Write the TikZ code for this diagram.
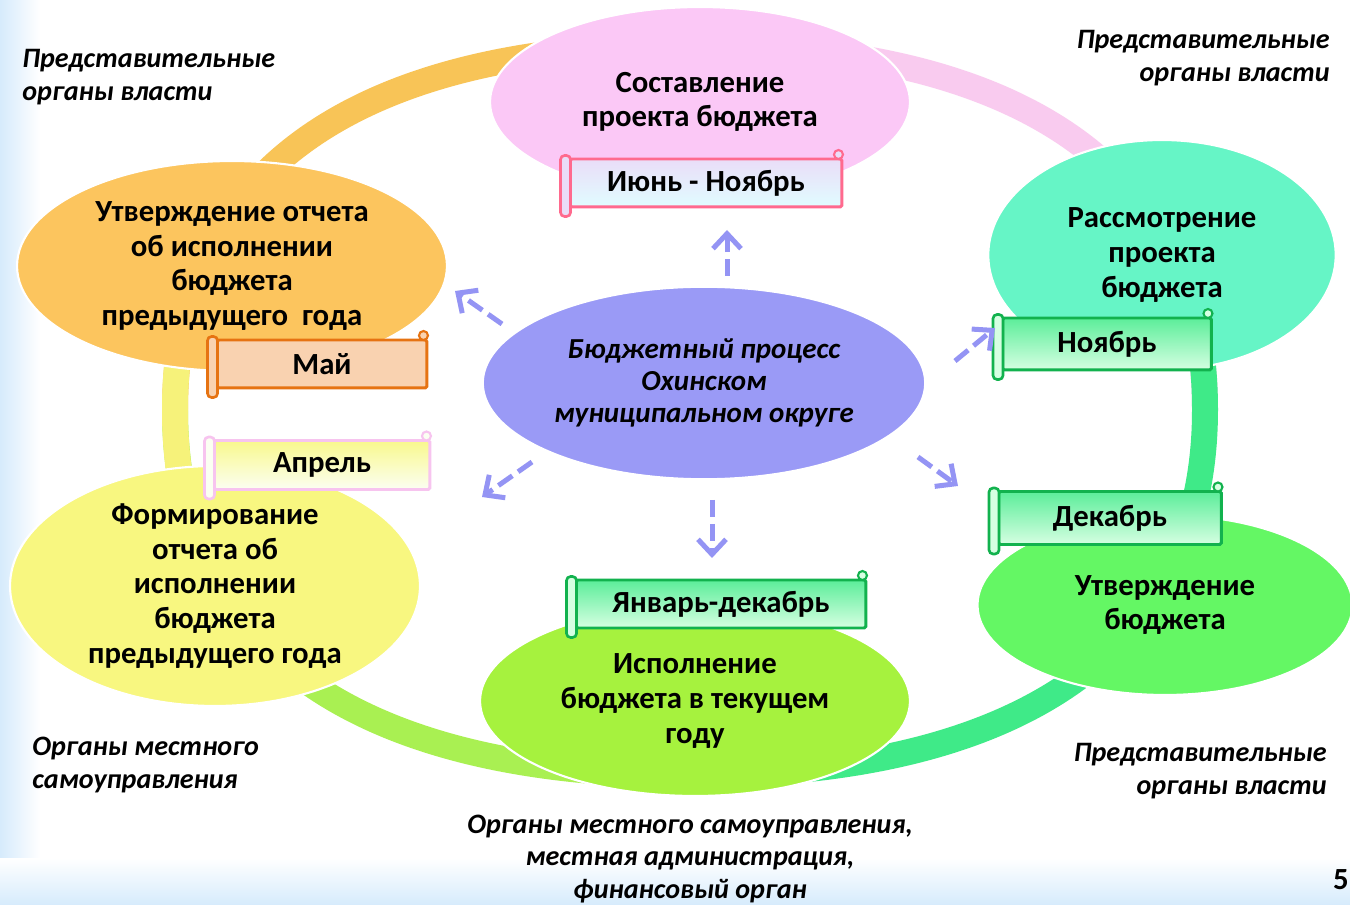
\documentclass[tikz,border=0pt]{standalone}
\usepackage{fontspec}
\setmainfont{Carlito}
\usetikzlibrary{shapes.geometric,arrows.meta}

\definecolor{bgblue}{HTML}{D6EBFC}
\definecolor{cpink}{HTML}{FBC8F6}
\definecolor{cteal}{HTML}{66F5C6}
\definecolor{cgreen}{HTML}{64F764}
\definecolor{clime}{HTML}{A6F23E}
\definecolor{cyellow}{HTML}{F8F780}
\definecolor{corange}{HTML}{FCC55E}
\definecolor{cpurple}{HTML}{9A9AF6}
\definecolor{ringorange}{HTML}{F8C457}
\definecolor{ringpink}{HTML}{F9CBEF}
\definecolor{ringgreen}{HTML}{3FEA88}
\definecolor{ringlime}{HTML}{A9F052}
\definecolor{ringyellow}{HTML}{F6F27A}
\definecolor{flowblue}{HTML}{9494F4}
\definecolor{junline}{HTML}{FF6A8E}
\definecolor{junbar}{HTML}{EADDF8}
\definecolor{mayline}{HTML}{E67312}
\definecolor{mayfill}{HTML}{F9D2B0}
\definecolor{aprline}{HTML}{F7C4EF}
\definecolor{aprbar}{HTML}{FBFFF2}
\definecolor{grline}{HTML}{12B24E}
\definecolor{grbar}{HTML}{D6FFE2}

\tikzset{
  stage/.style={ellipse, inner sep=0pt, align=center, draw=white, line width=1.2pt,
    font=\fontsize{17.5}{19.8}\selectfont\bfseries},
  period/.style={rectangle, rounded corners=1pt, line width=1.7pt, inner sep=0pt,
    font=\fontsize{17.5}{19.8}\selectfont\bfseries},
  who/.style={inner sep=0pt, font=\fontsize{16}{18.7}\selectfont\bfseries\itshape},
  ring/.style={line width=0.52cm},
  flow/.style={draw=flowblue, line width=1mm, dash pattern=on 0.34cm off 0.14cm,
    -{Straight Barb[length=0.3cm, width=0.56cm]}}
}

\begin{document}
\begin{tikzpicture}[x=0.02cm, y=-0.02cm]
\useasboundingbox (0,0) rectangle (1350,905);
\fill[white] (0,0) rectangle (1350,905);
\fill[left color=bgblue, right color=white] (0,0) rectangle (40,905);
\fill[top color=white, bottom color=bgblue] (0,858) rectangle (1350,905);
%%%%%%%%%%%%% ring
\draw[ring, ringorange] (175,410) .. controls (175,173) and (355,45) .. (690,45);
\draw[ring, ringpink] (690,45) .. controls (1025,45) and (1205,173) .. (1205,410);
\draw[ring, ringgreen] (1205,410) .. controls (1205,647) and (1025,775) .. (690,775);
\draw[ring, ringlime] (690,775) .. controls (355,775) and (175,647) .. (175,410);
\draw[ring, ringyellow] (180,340) .. controls (176,370) and (175,390) .. (175,410) .. controls (175,430) and (176,450) .. (180,480);
\draw[ring, ringgreen] (1200,340) .. controls (1204,370) and (1205,390) .. (1205,410);
%%%%%%%%%%%%% stages
\node[stage, fill=cpink, minimum width=8.4cm, minimum height=3.8cm] (draft) at (700,102) {Составление\\проекта бюджета};
\node[stage, fill=cteal, minimum width=6.95cm, minimum height=4.6cm] (review) at (1162,255) {Рассмотрение\\проекта\\бюджета};
\node[stage, fill=cgreen, minimum width=7.5cm, minimum height=3.6cm] (adopt) at (1165,605) {Утверждение\\бюджета};
\node[stage, fill=clime, minimum width=8.6cm, minimum height=3.8cm] (exec) at (695,701) {Исполнение\\бюджета в текущем\\году};
\node[stage, fill=cyellow, minimum width=8.2cm, minimum height=4.8cm] (report) at (215,586) {Формирование\\отчета об\\исполнении\\бюджета\\предыдущего года};
\node[stage, fill=corange, minimum width=8.6cm, minimum height=4.2cm] (approve) at (232,266) {Утверждение отчета\\об исполнении\\бюджета\\предыдущего~ года};
\node[stage, fill=cpurple, minimum width=8.85cm, minimum height=3.85cm,
  font=\fontsize{16.5}{18.1}\selectfont\bfseries\itshape] (proc) at (704,383) {Бюджетный процесс\\Охинском\\муниципальном округе};
%%%%%%%%%%%%% periods
\node[period, draw=junline, top color=junbar, bottom color=blue!8!cyan!12, minimum width=5.44cm, minimum height=0.96cm] (jun) at (706,183) {Июнь - Ноябрь};
\node[period, draw=grline, top color=ringgreen!85, bottom color=grbar, minimum width=4.18cm, minimum height=1.04cm] (nov) at (1107,344) {Ноябрь};
\node[period, draw=grline, top color=ringgreen!85, bottom color=grbar, minimum width=4.46cm, minimum height=1.06cm] (dec) at (1110,518) {Декабрь};
\node[period, draw=grline, top color=ringgreen!85, bottom color=grbar, minimum width=5.8cm, minimum height=0.96cm] (jan) at (721,604) {Январь-декабрь};
\node[period, draw=mayline, fill=mayfill, minimum width=4.2cm, minimum height=0.96cm] (may) at (322,364) {Май};
\node[period, draw=aprline, top color=cyellow!90, bottom color=aprbar, minimum width=4.32cm, minimum height=0.98cm] (apr) at (322,465) {Апрель};
\foreach \n/\c/\f in {jun/junline/junbar, nov/grline/grbar, dec/grline/grbar, jan/grline/grbar, may/mayline/mayfill, apr/aprline/aprbar}{
  \draw[draw=\c, fill=\f, line width=1.5pt, rounded corners=0.8mm] ([shift={(-8,-2)}]\n.north west) rectangle ([shift={(2,8)}]\n.south west);
  \draw[draw=\c, fill=\f, line width=1.2pt] ([shift={(-5,-3)}]\n.north east) circle (0.09cm);
}
%%%%%%%%%%%%% arrows
\coordinate (upS) at (727,276);
\coordinate (upT) at (727,230);
\coordinate (ulS) at (502,324);
\coordinate (ulT) at (455,291);
\coordinate (urS) at (955,361);
\coordinate (urT) at (995,328);
\coordinate (dlS) at (532,462);
\coordinate (dlT) at (482,497);
\coordinate (drS) at (918,457);
\coordinate (drT) at (958,486);
\coordinate (dnS) at (712,500);
\coordinate (dnT) at (712,558);
\foreach \a in {up,ul,ur,dl,dr,dn}
  \draw[flow] (\a S) -- (\a T);
%%%%%%%%%%%%% bodies
\node[who, anchor=west, align=left] (repTL) at (22,77) {Представительные\\органы власти};
\node[who, anchor=east, align=right] (repTR) at (1330,58) {Представительные\\органы власти};
\node[who, anchor=east, align=right] (repBR) at (1327,771) {Представительные\\органы власти};
\node[who, anchor=west, align=left] (locBL) at (32,765) {Органы местного\\самоуправления};
\node[who, align=center] (locB) at (690,859) {Органы местного самоуправления,\\местная администрация,\\финансовый орган};
\node[inner sep=0pt, anchor=east, font=\fontsize{17.5}{20}\selectfont\bfseries] (page) at (1349,880) {5};
\end{tikzpicture}
\end{document}
